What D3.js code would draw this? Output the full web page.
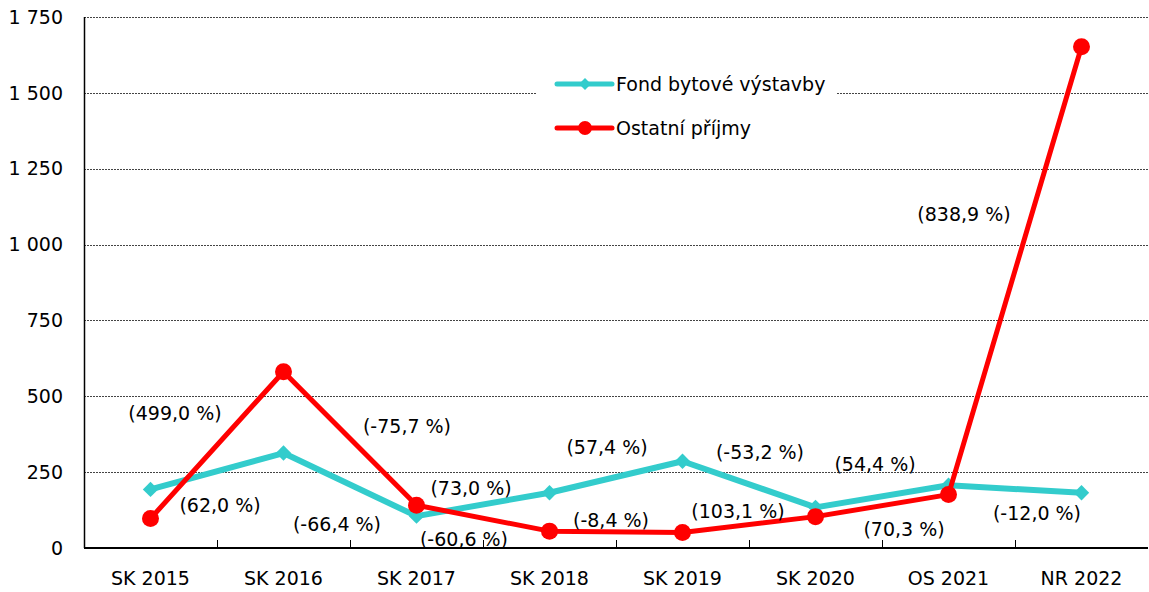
<!DOCTYPE html>
<html>
<head>
<meta charset="utf-8">
<script src="https://cdn.jsdelivr.net/npm/d3@7"></script>
<style>
	body { margin: 0; background: #fff; }
	text { font-family: "DejaVu Sans", sans-serif; fill: #000; }
</style>
</head>
<body>
<script>
//Chart data
let categories = ["SK 2015", "SK 2016", "SK 2017", "SK 2018", "SK 2019", "SK 2020", "OS 2021", "NR 2022"];
let fondValues = [193, 313, 105, 182, 286, 134, 207, 182];
let ostatneValues = [97, 581, 141, 55.6, 50.9, 103.4, 176, 1652];
let fondChanges = ["(62,0 %)", "(-66,4 %)", "(73,0 %)", "(57,4 %)", "(-53,2 %)", "(54,4 %)", "(-12,0 %)"];
let ostatneChanges = ["(499,0 %)", "(-75,7 %)", "(-60,6 %)", "(-8,4 %)", "(103,1 %)", "(70,3 %)", "(838,9 %)"];
let yTicks = [0, 250, 500, 750, 1000, 1250, 1500, 1750];
let seriesNames = ["Fond bytové výstavby", "Ostatní příjmy"];

window.onload = function(){
	let w = 1149, h = 592;
	let margin = {top: 17, right: 1, bottom: 44, left: 84};

	let svg = d3.select("body")
		.append("svg")
		.attr("width", w)
		.attr("height", h);

	//Scales
	let x = d3.scaleBand()
		.domain(categories)
		.range([margin.left, w - margin.right]);

	let y = d3.scaleLinear()
		.domain([0, 1750])
		.range([h - margin.bottom, margin.top]);

	let cx = function(i){ return x(categories[i]) + x.bandwidth() / 2; };

	//Dotted gridlines
	svg.selectAll(".grid")
		.data(yTicks.slice(1))
		.enter()
		.append("line")
		.attr("class", "grid")
		.attr("x1", margin.left)
		.attr("x2", w - margin.right)
		.attr("y1", function(d){ return Math.round(y(d)) + 0.5; })
		.attr("y2", function(d){ return Math.round(y(d)) + 0.5; })
		.style("stroke", "#444")
		.style("stroke-width", 1)
		.style("stroke-dasharray", "2,1");

	//Y axis labels
	let format = function(d){ return d3.format(",")(d).replace(",", " "); };
	svg.selectAll(".ylab")
		.data(yTicks)
		.enter()
		.append("text")
		.attr("class", "ylab")
		.attr("x", 63)
		.attr("y", function(d){ return y(d); })
		.attr("dy", "0.35em")
		.attr("text-anchor", "end")
		.style("font-size", "19px")
		.text(format);

	//Left axis line
	svg.append("line")
		.attr("x1", margin.left + 0.5).attr("x2", margin.left + 0.5)
		.attr("y1", margin.top).attr("y2", y(0))
		.style("stroke", "#000").style("stroke-width", 1.5);

	//Bottom axis line
	svg.append("line")
		.attr("x1", margin.left).attr("x2", w - margin.right)
		.attr("y1", y(0)).attr("y2", y(0))
		.style("stroke", "#000").style("stroke-width", 2);

	//Inner tick marks between categories
	svg.selectAll(".xtick")
		.data(categories.slice(1))
		.enter()
		.append("line")
		.attr("class", "xtick")
		.attr("x1", function(d){ return Math.round(x(d)) + 0.5; })
		.attr("x2", function(d){ return Math.round(x(d)) + 0.5; })
		.attr("y1", y(0))
		.attr("y2", y(0) - 8)
		.style("stroke", "#000");

	//X axis labels
	svg.selectAll(".xlab")
		.data(categories)
		.enter()
		.append("text")
		.attr("class", "xlab")
		.attr("x", function(d, i){ return cx(i); })
		.attr("y", 578)
		.attr("dy", "0.35em")
		.attr("text-anchor", "middle")
		.style("font-size", "19px")
		.text(function(d){ return d; });

	//Line generator
	let line = d3.line()
		.x(function(d, i){ return cx(i); })
		.y(function(d){ return y(d); });

	//Fond series
	svg.append("path")
		.datum(fondValues)
		.attr("d", line)
		.style("fill", "none")
		.style("stroke", "#33CCCC")
		.style("stroke-width", 6)
		.style("stroke-linejoin", "round");

	let diamond = d3.symbol().type(d3.symbolDiamond2).size(150);
	svg.selectAll(".fondPt")
		.data(fondValues)
		.enter()
		.append("path")
		.attr("class", "fondPt")
		.attr("d", diamond)
		.attr("transform", function(d, i){ return "translate(" + cx(i) + "," + y(d) + ")"; })
		.style("fill", "#33CCCC");

	//Ostatne series
	svg.append("path")
		.datum(ostatneValues)
		.attr("d", line)
		.style("fill", "none")
		.style("stroke", "#FF0000")
		.style("stroke-width", 5)
		.style("stroke-linejoin", "round");

	svg.selectAll(".ostPt")
		.data(ostatneValues)
		.enter()
		.append("circle")
		.attr("class", "ostPt")
		.attr("cx", function(d, i){ return cx(i); })
		.attr("cy", function(d){ return y(d); })
		.attr("r", 8.5)
		.style("fill", "#FF0000");

	//Change label offsets from segment midpoints (pixels)
	let fondOffsets = [[3, 34], [-13, 40], [-12, -16], [-9, -30], [11, -32], [-7, -32], [22, 24]];
	let ostOffsets = [[-42, -32], [57, -12], [-19, 21], [-5, -11], [-11, -13], [22, 24], [-51, -56]];

	function addLabels(values, labels, offsets){
		svg.selectAll(null)
			.data(labels)
			.enter()
			.append("text")
			.attr("x", function(d, i){ return (cx(i) + cx(i + 1)) / 2 + offsets[i][0]; })
			.attr("y", function(d, i){ return (y(values[i]) + y(values[i + 1])) / 2 + offsets[i][1]; })
			.attr("dy", "0.35em")
			.attr("text-anchor", "middle")
			.style("font-size", "19px")
			.text(function(d){ return d; });
	}
	addLabels(fondValues, fondChanges, fondOffsets);
	addLabels(ostatneValues, ostatneChanges, ostOffsets);

	//Legend
	let legend = svg.append("g").attr("transform", "translate(537,62)");
	legend.append("rect")
		.attr("width", 300)
		.attr("height", 84)
		.style("fill", "#fff");

	let colors = ["#33CCCC", "#FF0000"];
	let items = legend.selectAll(".item")
		.data(seriesNames)
		.enter()
		.append("g")
		.attr("class", "item")
		.attr("transform", function(d, i){ return "translate(20," + (22 + i * 44) + ")"; });

	items.append("line")
		.attr("x1", 0).attr("x2", 55)
		.style("stroke", function(d, i){ return colors[i]; })
		.style("stroke-width", 5)
		.style("stroke-linecap", "round");

	items.append("path")
		.attr("d", function(d, i){
			return i === 0 ? d3.symbol().type(d3.symbolDiamond2).size(90)() : d3.symbol().type(d3.symbolCircle).size(150)();
		})
		.attr("transform", "translate(28,0)")
		.style("fill", function(d, i){ return colors[i]; });

	items.append("text")
		.attr("x", 59)
		.attr("dy", "0.35em")
		.style("font-size", "19px")
		.text(function(d){ return d; });
};
</script>
</body>
</html>
